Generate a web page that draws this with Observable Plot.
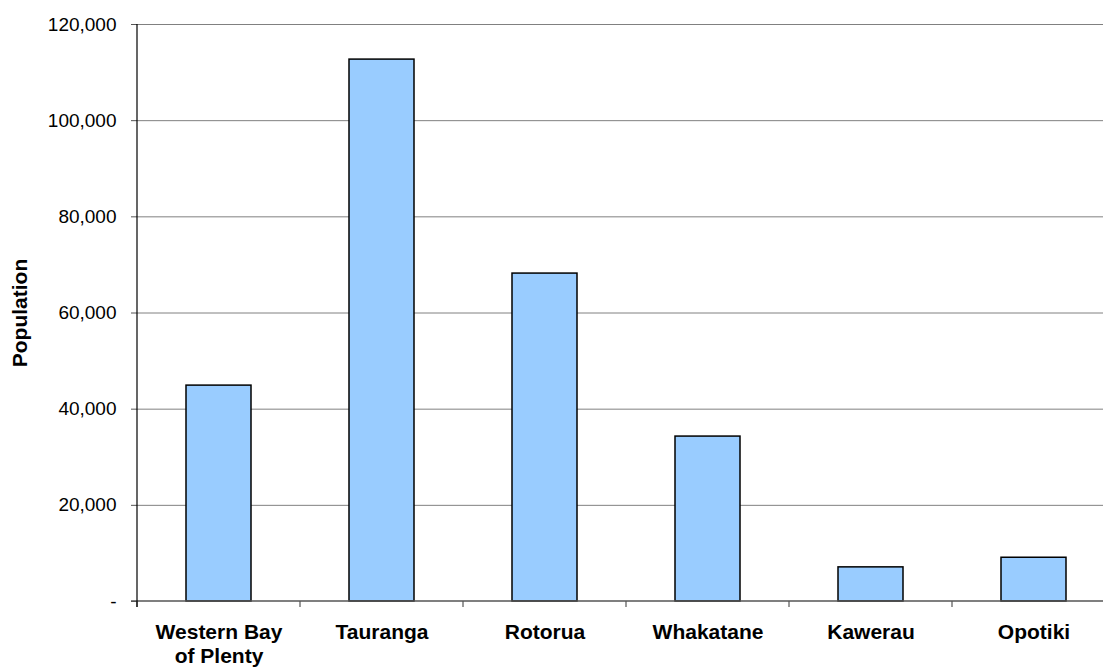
<!DOCTYPE html>
<html>
<head>
<meta charset="utf-8">
<script src="https://cdn.jsdelivr.net/npm/d3@7"></script>
<script src="https://cdn.jsdelivr.net/npm/@observablehq/plot@0.6"></script>
<style>
  html, body { margin: 0; padding: 0; background: white; }
</style>
</head>
<body>
<div id="chart"></div>
<script>
const categories = ["Western Bay\nof Plenty", "Tauranga", "Rotorua", "Whakatane", "Kawerau", "Opotiki"];
const populations = [44900, 112700, 68200, 34300, 7100, 9100];
const yTicks = [0, 20000, 40000, 60000, 80000, 100000, 120000];
const yTitle = "Population";

const data = categories.map((c, i) => ({cat: c, pop: populations[i]}));

// axis lines and category-boundary ticks, positioned from the plot's scales
function axisFrame(index, scales, values, dimensions) {
  const {width, marginLeft, marginRight, marginTop} = dimensions;
  const x = scales.x;
  const y = scales.y;
  const step = x.step ? x.step() : 0;
  const bw = x.bandwidth ? x.bandwidth() : 0;
  const g = d3.create("svg:g");
  const y0 = y(0);
  const bounds = categories.map(c => x(c) - (step - bw) / 2);
  bounds.forEach(b => {
    g.append("line").attr("x1", b).attr("x2", b).attr("y1", y0).attr("y2", y0 + 6)
      .attr("stroke", "#555").attr("stroke-width", 1.2);
  });
  g.append("line").attr("x1", marginLeft - 6).attr("x2", width - marginRight)
    .attr("y1", y0).attr("y2", y0).attr("stroke", "#555").attr("stroke-width", 1.5);
  g.append("line").attr("x1", marginLeft).attr("x2", marginLeft)
    .attr("y1", marginTop).attr("y2", y0 + 6).attr("stroke", "black").attr("stroke-width", 1.2);
  return g.node();
}

const chart = Plot.plot({
  width: 1103,
  height: 670,
  marginLeft: 137,
  marginRight: 0,
  marginTop: 24,
  marginBottom: 69,
  style: {fontFamily: "'Liberation Sans', Arial, sans-serif", background: "white", color: "black"},
  x: {domain: categories, range: [137, 1116], paddingInner: 0.6, paddingOuter: 0.3, axis: null},
  y: {domain: [0, 120000], axis: null},
  marks: [
    Plot.ruleY(yTicks.slice(1), {stroke: "#808080", strokeWidth: 1, strokeOpacity: 1}),
    Plot.barY(data, {x: "cat", y: "pop", fill: "#99CCFF", stroke: "black", strokeWidth: 1.5}),
    Plot.axisY({
      ticks: yTicks,
      tickFormat: d => d === 0 ? "-" : d3.format(",")(d),
      tickSize: 6,
      tickPadding: 15,
      fontSize: 19,
      stroke: "#555",
      label: null
    }),
    Plot.axisX({
      tickSize: 0,
      tickPadding: 20,
      fontSize: 21,
      fontWeight: "bold",
      lineHeight: 1.15,
      label: null
    }),
    axisFrame,
    Plot.text([yTitle], {
      frameAnchor: "left",
      textAnchor: "middle",
      rotate: -90,
      dx: -117,
      fontSize: 21,
      fontWeight: "bold",
      fill: "black"
    })
  ]
});

document.getElementById("chart").appendChild(chart);
</script>
</body>
</html>
